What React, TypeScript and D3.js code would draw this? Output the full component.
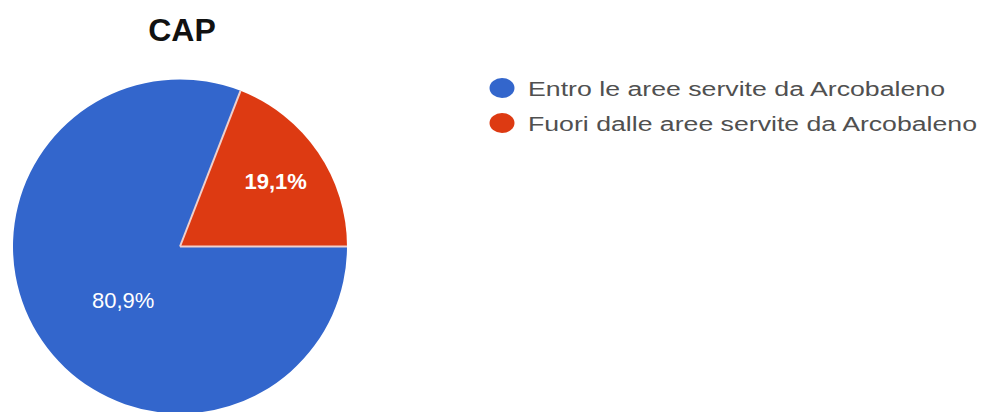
import React from "react";
import * as d3 from "d3";

const title = "CAP";
const categories = [
  "Entro le aree servite da Arcobaleno",
  "Fuori dalle aree servite da Arcobaleno",
];
const values = [80.9, 19.1];
const labels = ["80,9%", "19,1%"];
const colors = ["#3366cc", "#dd3a12"];

const W = 982;
const H = 412;

export default function App() {
  const cx = 180;
  const cy = 246.5;
  const r = 167;

  const pie = d3
    .pie<number>()
    .sort(null)
    .startAngle(Math.PI / 2)
    .endAngle(Math.PI / 2 + 2 * Math.PI);
  const arcs = pie(values);
  const arc = d3.arc<d3.PieArcDatum<number>>().innerRadius(0).outerRadius(r);

  const labelPos = (a: d3.PieArcDatum<number>) => {
    const big = a.endAngle - a.startAngle > Math.PI;
    let mid = (a.startAngle + a.endAngle) / 2;
    const lr = big ? 78 : 116;
    if (big) mid -= (8.8 * Math.PI) / 180;
    return [lr * Math.sin(mid), -lr * Math.cos(mid)];
  };

  const legendX = 502;
  const legendY0 = 88;
  const legendStep = 35;
  const legendLengths = [417, 449];

  return (
    <svg
      width={W}
      height={H}
      style={{ position: "absolute", left: 0, top: 0, background: "#fff" }}
    >
      <text
        x={182}
        y={41}
        textAnchor="middle"
        fontFamily="Liberation Sans, Arial, sans-serif"
        fontWeight="bold"
        fontSize={32}
        fill="#111"
      >
        {title}
      </text>
      <g transform={`translate(${cx},${cy})`}>
        {arcs.map((a, i) => (
          <path key={i} d={arc(a) || ""} fill={colors[i]} />
        ))}
        {arcs.map((a, i) => (
          <line
            key={"s" + i}
            x1={0}
            y1={0}
            x2={r * Math.sin(a.startAngle)}
            y2={-r * Math.cos(a.startAngle)}
            stroke="#f0d0cc"
            strokeWidth={2}
          />
        ))}
        {arcs.map((a, i) => {
          const [x, y] = labelPos(a);
          return (
            <text
              key={"l" + i}
              x={x}
              y={y}
              dy="0.36em"
              textAnchor="middle"
              fontFamily="Liberation Sans, Arial, sans-serif"
              fontWeight={i === 1 ? "bold" : "normal"}
              fontSize={22}
              fill="#fff"
            >
              {labels[i]}
            </text>
          );
        })}
      </g>
      <g>
        {categories.map((c, i) => (
          <g key={c}>
            <ellipse
              cx={legendX}
              cy={legendY0 + i * legendStep}
              rx={12.5}
              ry={10}
              fill={colors[i]}
            />
            <text
              x={528}
              y={legendY0 + i * legendStep + 8}
              fontFamily="Liberation Sans, Arial, sans-serif"
              fontSize={20}
              fill="#505050"
              textLength={legendLengths[i]}
              lengthAdjust="spacingAndGlyphs"
            >
              {c}
            </text>
          </g>
        ))}
      </g>
    </svg>
  );
}
